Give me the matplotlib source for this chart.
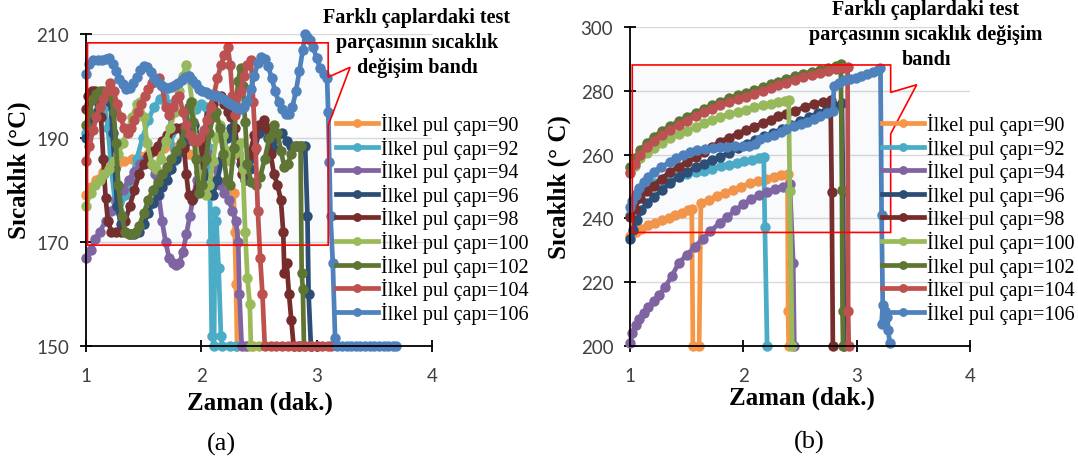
import matplotlib
matplotlib.use("Agg")
import matplotlib.pyplot as plt
from matplotlib.patches import Polygon

W, H, DPI = 1078, 464, 100

diameters = [90, 92, 94, 96, 98, 100, 102, 104, 106]
colors = ["#F79646", "#4BACC6", "#8064A2", "#2C4D75", "#772C2A",
          "#9BBB59", "#5F7530", "#C0504D", "#4F81BD"]
legend_labels = [f"İlkel pul çapı={d}" for d in diameters]

x_ticks = [1, 2, 3, 4]
y_ticks_a = [150, 170, 190, 210]
y_ticks_b = [200, 220, 240, 260, 280, 300]

# ---------------- (a) time [min] / temperature [°C] ----------------
x_a90 = [1.00, 1.04, 1.09, 1.15, 1.21, 1.27, 1.33, 1.40, 1.47, 1.54, 1.61, 1.68, 1.75, 1.82, 1.89,
         1.96, 2.03, 2.10, 2.16, 2.22, 2.28, 2.29, 2.30, 2.31, 2.38, 2.45]
y_a90 = [179, 180.5, 182, 183.5, 184.5, 185, 185.5, 186, 186.5, 187, 187.5, 188, 188.3, 188, 187,
         185.5, 183.5, 182, 181.5, 180.5, 179.5, 172, 162, 150, 150, 150]

x_a92 = [1.00, 1.04, 1.08, 1.12, 1.16, 1.19, 1.22, 1.25, 1.29, 1.34, 1.39, 1.44, 1.49, 1.54, 1.59,
         1.64, 1.68, 1.72, 1.74, 1.76, 1.80, 1.85, 1.90, 1.95, 2.00, 2.04, 2.07, 2.08, 2.09, 2.11,
         2.12, 2.13, 2.15, 2.17, 2.18, 2.25, 2.30]
y_a92 = [191, 193, 194.5, 195.5, 196, 192, 184, 178, 176, 179, 182, 186, 190, 193.5, 196,
         197.5, 197.8, 196.5, 191, 185.5, 187, 190, 193, 195.5, 196.5, 196, 188, 170, 152, 150,
         176, 174, 165, 152, 150, 150, 150]

x_a94 = [1.00, 1.04, 1.08, 1.12, 1.17, 1.22, 1.27, 1.32, 1.37, 1.42, 1.47, 1.52, 1.56, 1.60, 1.63,
         1.66, 1.69, 1.72, 1.75, 1.78, 1.81, 1.84, 1.87, 1.90, 1.93, 1.96, 1.99, 2.02, 2.06, 2.11,
         2.16, 2.20, 2.24, 2.27, 2.30, 2.32, 2.33, 2.35, 2.40]
y_a94 = [167, 168.5, 170.5, 172, 174, 176, 178, 180, 182, 183.5, 185, 186, 185, 183, 179,
         174, 170, 167, 166, 165.5, 166, 168, 171.5, 175, 178.5, 182, 184.5, 186.5, 187, 184.5,
         181, 179.5, 178, 176, 174, 170, 160, 150, 150]

x_a96 = [1.00, 1.03, 1.07, 1.11, 1.15, 1.18, 1.21, 1.23, 1.25, 1.27, 1.30, 1.34, 1.38, 1.42, 1.46,
         1.50, 1.54, 1.58, 1.62, 1.66, 1.70, 1.74, 1.78, 1.82, 1.86, 1.90, 1.94, 1.98, 2.02, 2.06,
         2.10, 2.14, 2.18, 2.22, 2.26, 2.30, 2.34, 2.38, 2.42, 2.46, 2.50, 2.54, 2.58, 2.62, 2.66,
         2.70, 2.74, 2.78, 2.82, 2.86, 2.90, 2.92, 2.93, 2.95, 3.00]
y_a96 = [190, 192, 194.5, 196.5, 198, 198.5, 197, 191, 184, 177, 173.5, 172, 171.5, 171.5, 172,
         173.5, 175.5, 177.5, 179, 180.5, 182, 184, 186, 187.5, 189, 191, 192.5, 190, 185.5, 181,
         179, 182, 186, 190, 192, 189, 185, 182, 184, 187.5, 191, 192.5, 190, 188, 190.5,
         191, 189.5, 188.5, 188.5, 188.5, 188.5, 175, 160, 150, 150]

x_a98 = [1.00, 1.02, 1.05, 1.08, 1.11, 1.13, 1.15, 1.17, 1.19, 1.22, 1.26, 1.30, 1.34, 1.38, 1.42,
         1.46, 1.50, 1.54, 1.58, 1.62, 1.66, 1.70, 1.74, 1.78, 1.82, 1.85, 1.87, 1.89, 1.92, 1.95,
         1.98, 2.01, 2.04, 2.07, 2.10, 2.14, 2.17, 2.20, 2.23, 2.26, 2.29, 2.32, 2.35, 2.38, 2.42,
         2.46, 2.50, 2.54, 2.57, 2.60, 2.63, 2.66, 2.69, 2.71, 2.72, 2.74, 2.76, 2.78, 2.80, 2.85]
y_a98 = [195.5, 198, 199, 199, 198.5, 194, 186, 178.5, 174, 172, 172, 172, 174, 177, 180,
         183, 185, 186.5, 187.5, 188.5, 189.5, 190.5, 191.5, 192, 192, 188, 183, 179, 178, 179.5,
         183.5, 188, 191.5, 194.5, 196.5, 198, 198, 196.5, 195, 194, 192, 187, 183, 183.5, 187,
         190.5, 192.5, 193.5, 192, 187, 183, 181, 178, 172, 164, 166, 160, 155, 150, 150]

x_a100 = [1.00, 1.04, 1.08, 1.12, 1.16, 1.20, 1.24, 1.28, 1.32, 1.36, 1.40, 1.44, 1.47, 1.50, 1.53,
          1.57, 1.61, 1.65, 1.69, 1.73, 1.77, 1.81, 1.84, 1.87, 1.89, 1.92, 1.95, 1.98, 2.01, 2.04,
          2.07, 2.10, 2.13, 2.16, 2.19, 2.22, 2.25, 2.28, 2.31, 2.34, 2.36, 2.38, 2.40, 2.42, 2.43,
          2.50]
y_a100 = [177, 179.5, 181, 182, 183, 184, 185.5, 187, 189, 191.5, 194, 196.5, 197, 194, 189,
          185, 184, 186, 189.5, 192, 195, 199, 202, 204, 202, 197, 190, 183, 180, 179,
          181, 185.5, 190, 192.5, 190.5, 187.5, 185.5, 187, 188.5, 189, 184, 172, 163, 158, 150,
          150]

x_a102 = [1.00, 1.03, 1.06, 1.09, 1.12, 1.15, 1.18, 1.21, 1.24, 1.26, 1.28, 1.31, 1.34, 1.37, 1.40,
          1.43, 1.46, 1.50, 1.54, 1.58, 1.62, 1.66, 1.70, 1.74, 1.78, 1.82, 1.86, 1.89, 1.91, 1.93,
          1.95, 1.98, 2.01, 2.04, 2.07, 2.10, 2.13, 2.16, 2.19, 2.22, 2.25, 2.28, 2.30, 2.32, 2.34,
          2.36, 2.38, 2.40, 2.43, 2.47, 2.51, 2.55, 2.59, 2.63, 2.66, 2.69, 2.72, 2.75, 2.78, 2.81,
          2.84, 2.86, 2.87, 2.88, 2.89, 2.95]
y_a102 = [192.5, 195, 197.5, 198.5, 199, 199, 199, 198.5, 195, 189, 181, 175, 172, 171.5, 171.5,
          172, 173, 175.5, 178, 180, 181.5, 183, 184.5, 186, 187.5, 189, 192, 196, 197, 193,
          186, 179.5, 181, 186, 191, 194, 195, 192, 187, 182, 181, 188, 196, 201, 203.5,
          200, 193, 185, 181.5, 181, 182.5, 186, 190, 192.5, 191, 187.5, 184.5, 185, 187, 188.5,
          188.5, 188.5, 164, 161, 150, 150]

x_a104 = [1.00, 1.03, 1.06, 1.09, 1.12, 1.15, 1.18, 1.21, 1.24, 1.27, 1.30, 1.33, 1.36, 1.39, 1.42,
          1.45, 1.48, 1.51, 1.54, 1.57, 1.60, 1.63, 1.66, 1.69, 1.72, 1.75, 1.78, 1.81, 1.84, 1.87,
          1.90, 1.93, 1.96, 1.99, 2.02, 2.05, 2.08, 2.11, 2.14, 2.17, 2.20, 2.23, 2.25, 2.27, 2.29,
          2.31, 2.34, 2.37, 2.40, 2.43, 2.45, 2.47, 2.49, 2.51, 2.53, 2.55, 2.60, 2.65, 2.70, 2.75,
          2.80, 2.85, 2.90, 2.95, 3.00, 3.05, 3.10, 3.12]
y_a104 = [185.5, 188.5, 191.5, 194, 196, 197.5, 199, 200.5, 199, 196.5, 194, 192, 191, 192, 193.5,
          195, 196.5, 198, 199.5, 200.5, 201, 201.5, 200, 196, 194.5, 196, 197.5, 198, 195, 192.5,
          190.5, 189.5, 189.5, 190, 191.5, 193.5, 196, 198.5, 201.5, 204, 206, 207.5, 204, 198, 194.5,
          196, 199, 202, 204, 205, 197, 188, 176, 167, 160, 150, 150, 150, 150, 150,
          150, 150, 150, 150, 150, 150, 150, 150]

x_a106 = [1.00, 1.03, 1.06, 1.10, 1.14, 1.17, 1.20, 1.23, 1.26, 1.29, 1.32, 1.35, 1.38, 1.41, 1.44,
          1.47, 1.50, 1.53, 1.56, 1.59, 1.62, 1.65, 1.68, 1.71, 1.74, 1.77, 1.80, 1.83, 1.86, 1.89,
          1.92, 1.95, 1.98, 2.01, 2.04, 2.07, 2.10, 2.13, 2.16, 2.19, 2.22, 2.25, 2.28, 2.31, 2.34,
          2.37, 2.40, 2.43, 2.46, 2.49, 2.52, 2.55, 2.58, 2.61, 2.64, 2.67, 2.70, 2.73, 2.76, 2.79,
          2.82, 2.85, 2.88, 2.90, 2.92, 2.94, 2.97, 3.00, 3.03, 3.06, 3.09, 3.10, 3.11, 3.12, 3.14,
          3.16, 3.18, 3.22, 3.26, 3.30, 3.34, 3.38, 3.42, 3.46, 3.50, 3.54, 3.58, 3.62, 3.66, 3.69]
y_a106 = [202.3, 204.3, 205, 205, 205, 205.1, 205.3, 204.3, 202.8, 201.3, 200.3, 199.5, 199.6, 200.5, 201.8,
          203, 203.9, 203.6, 202.7, 201.6, 200.8, 200.2, 199.8, 199.7, 199.9, 200.2, 200.6, 201.2, 201.7, 202,
          201.2, 200.3, 199.5, 199.1, 198.8, 198.5, 198.2, 198, 197.8, 197.5, 197, 196.6, 196.1, 195.7, 195.6,
          196, 197.2, 199.5, 202, 204.5, 205.6, 205.2, 203.8, 201.5, 199, 197, 195.6, 194.6, 194.6, 196,
          199, 202.8, 207, 210, 209.5, 208.8, 207.5, 205.3, 203.5, 202.3, 201.5, 195, 185.3, 175, 166,
          151.5, 150, 150, 150, 150, 150, 150, 150, 150, 150, 150, 150, 150, 150, 150]

# ---------------- (b) time [min] / temperature [°C] ----------------
x_b90 = [1.00, 1.05, 1.10, 1.16, 1.22, 1.28, 1.34, 1.40, 1.46, 1.51, 1.545, 1.555, 1.61, 1.625,
         1.70, 1.77, 1.84, 1.91, 1.98, 2.06, 2.13, 2.20, 2.27, 2.33, 2.39, 2.395, 2.40]
y_b90 = [234.5, 235.8, 236.8, 237.8, 238.6, 239.4, 240.2, 241.0, 241.8, 242.5, 243.0, 200, 200, 244.8,
         245.9, 247.0, 248.0, 249.0, 250.0, 251.0, 251.7, 252.4, 253.0, 253.5, 254.0, 211, 200]

x_b92 = [1.00, 1.03, 1.06, 1.10, 1.16, 1.22, 1.29, 1.36, 1.43, 1.50, 1.58, 1.65, 1.72, 1.80,
         1.87, 1.94, 2.01, 2.08, 2.14, 2.18, 2.19, 2.21]
y_b92 = [241, 245, 248, 249.2, 250.3, 251.0, 251.8, 252.5, 253.2, 253.8, 254.5, 255.0, 255.6, 256.3,
         256.8, 257.3, 257.9, 258.4, 258.9, 259.2, 237.2, 200]

x_b94 = [1.00, 1.02, 1.05, 1.08, 1.12, 1.16, 1.21, 1.26, 1.31, 1.37, 1.43, 1.50, 1.57, 1.64,
         1.71, 1.79, 1.86, 1.93, 2.00, 2.07, 2.14, 2.21, 2.28, 2.35, 2.41, 2.44, 2.45]
y_b94 = [201, 204, 206.5, 208.5, 210.5, 212.3, 214, 216, 218.5, 222, 226, 228.5, 231, 233.5,
         236, 238.5, 240.5, 242.5, 244.5, 246, 247.3, 248.3, 249.2, 250.0, 250.8, 226, 200]

x_b96 = [1.00, 1.03, 1.06, 1.10, 1.15, 1.21, 1.28, 1.35, 1.43, 1.50, 1.58, 1.65, 1.72, 1.79, 1.87,
         1.95, 2.03, 2.10, 2.18, 2.26, 2.34, 2.42, 2.50, 2.58, 2.66, 2.74, 2.81, 2.87, 2.88, 2.89]
y_b96 = [233.5, 236.5, 239.5, 242.5, 244.8, 246.6, 248.8, 251, 253, 254.5, 256, 257.2, 258.2, 259.2, 260.5,
         262, 263.2, 264.5, 265.8, 266.8, 268, 269.3, 270.5, 271.7, 273, 274.2, 275.3, 276.3, 248.5, 200]

x_b98 = [1.00, 1.04, 1.09, 1.15, 1.21, 1.28, 1.35, 1.43, 1.50, 1.58, 1.65, 1.72, 1.79, 1.87,
         1.95, 2.02, 2.09, 2.17, 2.24, 2.31, 2.38, 2.46, 2.54, 2.62, 2.70, 2.77, 2.78, 2.79]
y_b98 = [240.5, 243, 246.5, 248.6, 250.3, 252.5, 254.5, 256.2, 257.6, 259.2, 260.8, 262.4, 263.9, 265.3,
         266.5, 267.6, 268.6, 269.8, 271, 272, 272.7, 273.8, 274.8, 275.8, 276.5, 277, 248.2, 200]

x_b100 = [1.00, 1.04, 1.09, 1.15, 1.21, 1.28, 1.35, 1.43, 1.50, 1.58, 1.65, 1.72, 1.79, 1.87,
          1.95, 2.02, 2.09, 2.17, 2.24, 2.31, 2.37, 2.40, 2.41, 2.43]
y_b100 = [254.5, 256.5, 258.8, 260.5, 262, 263.7, 265.2, 266.4, 267.5, 268.7, 269.8, 270.8, 271.7, 272.6,
          273.4, 274.1, 274.8, 275.5, 276, 276.5, 276.9, 277, 248.5, 200]

x_b102 = [1.00, 1.04, 1.09, 1.15, 1.21, 1.28, 1.35, 1.43, 1.50, 1.58, 1.65, 1.72, 1.79, 1.87,
          1.95, 2.02, 2.09, 2.17, 2.24, 2.31, 2.38, 2.46, 2.53, 2.61, 2.68, 2.75, 2.82, 2.86, 2.87,
          2.875, 2.88]
y_b102 = [256.2, 258.8, 261.5, 263.6, 265.6, 267.3, 268.9, 270.4, 271.8, 273.1, 274.3, 275.4, 276.5, 277.6,
          278.6, 279.3, 280.1, 281.1, 282, 282.9, 283.8, 284.6, 285.3, 286, 286.6, 287.2, 287.8, 288.3, 249,
          211, 200]

x_b104 = [1.00, 1.04, 1.09, 1.15, 1.21, 1.28, 1.35, 1.43, 1.50, 1.58, 1.65, 1.72, 1.79, 1.87,
          1.95, 2.02, 2.09, 2.17, 2.24, 2.31, 2.38, 2.46, 2.53, 2.61, 2.68, 2.75, 2.82, 2.88, 2.92,
          2.925, 2.93]
y_b104 = [254.3, 257.2, 260, 262.3, 264.3, 266.1, 267.7, 269.2, 270.6, 272, 273.2, 274.3, 275.4, 276.4,
          277.4, 278.2, 279, 280, 280.9, 281.8, 282.6, 283.5, 284.2, 284.9, 285.6, 286.2, 286.8, 287.3, 287.5,
          211, 200]

x_b106 = [1.00, 1.02, 1.05, 1.08, 1.12, 1.16, 1.21, 1.27, 1.35, 1.41, 1.47, 1.53, 1.59, 1.66, 1.73,
          1.79, 1.86, 1.93, 2.00, 2.05, 2.10, 2.15, 2.21, 2.27, 2.33, 2.38, 2.45, 2.51, 2.56, 2.62,
          2.68, 2.74, 2.79, 2.80, 2.84, 2.89, 2.94, 2.99, 3.04, 3.09, 3.14, 3.19, 3.21, 3.22, 3.23,
          3.22, 3.25, 3.27, 3.28, 3.29]
y_b106 = [243.5, 245.5, 247.3, 249.5, 251.3, 253, 254.5, 256, 257.6, 258.9, 260, 260.8, 261.3, 261.8, 262.1,
          262.3, 262.5, 262.6, 262.7, 262.6, 263.4, 264.8, 265.5, 266.3, 267.1, 268, 268.9, 269.6, 270.3, 271.1,
          272, 272.9, 273.6, 281.5, 282.6, 283.3, 283.7, 284.1, 284.6, 285.2, 285.8, 286.5, 287, 241, 213,
          207, 211, 209, 205, 201]

series_a = [(x_a90, y_a90), (x_a92, y_a92), (x_a94, y_a94), (x_a96, y_a96), (x_a98, y_a98),
            (x_a100, y_a100), (x_a102, y_a102), (x_a104, y_a104), (x_a106, y_a106)]
series_b = [(x_b90, y_b90), (x_b92, y_b92), (x_b94, y_b94), (x_b96, y_b96), (x_b98, y_b98),
            (x_b100, y_b100), (x_b102, y_b102), (x_b104, y_b104), (x_b106, y_b106)]

# Callout outlines marking the temperature band (data coordinates)
band_a = [(1.013, 208.3), (3.10, 208.3), (3.10, 201.7), (3.29, 203.6),
          (3.10, 192.4), (3.10, 169.4), (1.013, 169.4)]
band_b = [(1.02, 288.1), (3.30, 288.1), (3.30, 279.5), (3.53, 281.9),
          (3.30, 266.5), (3.30, 235.6), (1.02, 235.6)]

band_text_a = "Farklı çaplardaki test\nparçasının sıcaklık\ndeğişim bandı"
band_text_b = "Farklı çaplardaki test\nparçasının sıcaklık değişim\nbandı"

plt.rcParams["font.family"] = ["Lato", "DejaVu Sans"]
SERIF = ["Liberation Serif", "DejaVu Serif"]

fig = plt.figure(figsize=(W / DPI, H / DPI), dpi=DPI)


def axes_px(left, top, right, bottom):
    return fig.add_axes([left / W, 1 - bottom / H, (right - left) / W, (bottom - top) / H])


def style(ax, yticks):
    ax.set_xlim(1, 4)
    ax.set_ylim(yticks[0], yticks[-1])
    ax.set_xticks(x_ticks)
    ax.set_yticks(yticks)
    for s in ("top", "right"):
        ax.spines[s].set_visible(False)
    for s in ("left", "bottom"):
        ax.spines[s].set_linewidth(1.3)
        ax.spines[s].set_color("black")
    ax.yaxis.grid(True, color="#D9D9D9", lw=1.0)
    ax.set_axisbelow(True)
    ax.tick_params(direction="inout", length=8, width=1.3, color="black",
                   labelcolor="#404040", labelsize=13.5)
    ax.tick_params(axis="y", pad=8)
    ax.tick_params(axis="x", pad=11)
    ax.set_facecolor("white")


def draw(ax, series, band, yticks, ylabel, label_xy, legend_xy):
    style(ax, yticks)
    for (x, y), c, lab in zip(series, colors, legend_labels):
        ax.plot(x, y, color=c, lw=3.4, marker="o", ms=7.5, mew=0, label=lab,
                clip_on=False, solid_joinstyle="round", zorder=2)
    ax.add_patch(Polygon(band, closed=True, facecolor=(0.31, 0.51, 0.74, 0.04),
                         edgecolor="#FF0000", lw=1.2, zorder=3, clip_on=False))
    ax.set_xlabel("Zaman (dak.)", family=SERIF, fontsize=18, fontweight="bold")
    ax.set_ylabel(ylabel, family=SERIF, fontsize=18, fontweight="bold")
    ax.xaxis.label.set_va("center")
    ax.yaxis.label.set_va("center")
    ax.xaxis.set_label_coords(*label_xy[0])
    ax.yaxis.set_label_coords(*label_xy[1])
    leg = ax.legend(loc="upper left", bbox_to_anchor=(legend_xy[0] / W, 1 - legend_xy[1] / H),
                    bbox_transform=fig.transFigure, frameon=False,
                    prop={"family": SERIF, "size": 14.5}, handlelength=2.1,
                    handletextpad=0.15, labelspacing=0.07, borderpad=0, borderaxespad=0,
                    markerscale=0.85)
    leg.set_zorder(6)


ax_a = axes_px(86, 35, 432, 347)
ax_b = axes_px(630, 28, 970, 347)

draw(ax_a, series_a, band_a, y_ticks_a, "Sıcaklık (°C)",
     ((0.503, -0.18), (-0.194, 0.567)), (336, 114))
draw(ax_b, series_b, band_b, y_ticks_b, "Sıcaklık (° C)",
     ((0.506, -0.16), (-0.209, 0.502)), (882, 114))

fig.text(417 / W, 1 - 43 / H, band_text_a, family=SERIF, fontsize=14.5, fontweight="bold",
         ha="center", va="center", multialignment="center", linespacing=1.35)
fig.text(926 / W, 1 - 35 / H, band_text_b, family=SERIF, fontsize=14.5, fontweight="bold",
         ha="center", va="center", multialignment="center", linespacing=1.35)

fig.text(221 / W, 1 - 444 / H, "(a)", family=SERIF, fontsize=19, ha="center", va="center")
fig.text(809 / W, 1 - 442 / H, "(b)", family=SERIF, fontsize=19, ha="center", va="center")

fig.savefig("out.png", dpi=DPI)
